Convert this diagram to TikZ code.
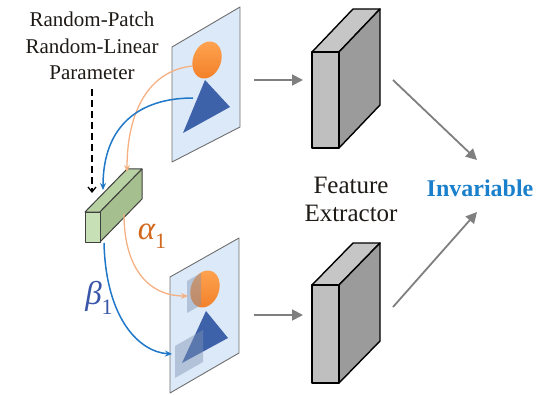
\documentclass[tikz,border=0pt]{standalone}
\usepackage{fontspec}
\setmainfont{Liberation Serif}
\usetikzlibrary{arrows.meta}

\definecolor{planefill}{HTML}{DCE9F8}
\definecolor{planeedge}{HTML}{6E6E6E}
\definecolor{shapeorange}{HTML}{F27F27}
\definecolor{shapeorangelt}{HTML}{FFA452}
\definecolor{triblue}{HTML}{3E62AA}
\definecolor{patchgray}{HTML}{7F93B4}
\definecolor{curveorange}{HTML}{F5B183}
\definecolor{curveblue}{HTML}{1F78C8}
\definecolor{alphacol}{HTML}{D2691E}
\definecolor{betacol}{HTML}{3A56A8}
\definecolor{invblue}{HTML}{1A80CC}
\definecolor{arrowgray}{HTML}{7F7F7F}
\definecolor{textdark}{HTML}{1E1A16}
\definecolor{blkfront}{HTML}{BFBFBF}
\definecolor{blktop}{HTML}{C6C6C6}
\definecolor{blkside}{HTML}{9B9B9B}
\definecolor{grnfront}{HTML}{C8E0B6}
\definecolor{grntop}{HTML}{B7D1A2}
\definecolor{grnside}{HTML}{A6BF8E}

% cuboid: front face from (#1,#2) to (#3,#4), depth offset (#5,#6),
% colour prefix #7, outline style #8
\newcommand{\drawcuboid}[8]{%
  \draw[#8, fill=#7top] (#1,#2) -- (#3,#2) -- ({#3+#5},{#2+#6}) -- ({#1+#5},{#2+#6}) -- cycle;
  \draw[#8, fill=#7side] (#3,#2) -- ({#3+#5},{#2+#6}) -- ({#3+#5},{#4+#6}) -- (#3,#4) -- cycle;
  \draw[#8, fill=#7front] (#1,#2) rectangle (#3,#4);
}
% italic Greek letter with an upright subscript
\newcommand{\grsub}[2]{{\itshape #1}\raisebox{-0.28em}{\fontsize{22}{22}\selectfont #2}}

\tikzset{
  plane/.style={fill=planefill, draw=planeedge, line width=0.9pt, line join=round},
  blockline/.style={draw=black, line width=1.4pt, line join=round},
  greenline/.style={draw=black!75, line width=1.0pt, line join=round},
  grayarrow/.style={draw=arrowgray, line width=1.8pt, -{Triangle[length=11pt,width=11pt]}},
  curveo/.style={draw=curveorange, line width=1.3pt, -{Stealth[length=7pt,width=6pt]}},
  curveb/.style={draw=curveblue, line width=1.5pt, -{Stealth[length=7pt,width=6pt]}},
  dasharrow/.style={draw=black, line width=1.3pt, dash pattern=on 7pt off 4pt, -{Straight Barb[length=5pt,width=8pt]}},
  lbl/.style={font=\fontsize{21}{26.5}\selectfont, align=center, text=textdark, inner sep=0pt},
  fe/.style={font=\fontsize{25}{28}\selectfont, align=center, text=textdark, inner sep=0pt},
  inv/.style={font=\fontsize{24}{28}\selectfont\bfseries, text=invblue, inner sep=0pt},
  greek/.style={font=\fontsize{33}{36}\selectfont, inner sep=0pt},
  orangeshape/.style={top color=shapeorangelt, bottom color=shapeorange},
  patch/.style={fill=patchgray, fill opacity=0.45},
}

\begin{document}
\begin{tikzpicture}[x=1pt, y=-1pt]
\useasboundingbox (0,0) rectangle (545,395);

% ---------- original image plane ----------
\draw[plane] (172,47) -- (240,7) -- (240,127) -- (172,162) -- cycle;
\fill[triblue] (205,80) -- (230,107) -- (183,133) -- cycle;
\shade[orangeshape, rotate around={-20:(207,60)}] (207,60) ellipse [x radius=14, y radius=19];

% ---------- augmented image plane ----------
\draw[plane] (170,277) -- (239,238) -- (239,353) -- (170,393) -- cycle;
\fill[triblue] (206,311) -- (228,338) -- (182,363) -- cycle;
\shade[orangeshape, rotate around={-20:(205,289)}] (205,289) ellipse [x radius=14, y radius=19];
\fill[patch] (187,281) -- (201,273) -- (201,305) -- (187,313) -- cycle;
\fill[patch] (175,346) -- (203,330) -- (203,362) -- (175,378) -- cycle;

% ---------- random parameter block ----------
\drawcuboid{85}{212}{100}{242}{42}{-43}{grn}{greenline}

% ---------- feature extractors ----------
\drawcuboid{312}{52}{339}{148}{41}{-43}{blk}{blockline}
\drawcuboid{312}{285}{339}{383}{41}{-42}{blk}{blockline}

% ---------- labels ----------
\node[lbl] (param) at (92,46) {Random-Patch\\Random-Linear\\Parameter};
\node[fe] (fext) at (351,199) {Feature\\Extractor};
\node[inv] (inv) at (480,188) {Invariable};
\node[greek, text=alphacol] (alpha) at (152,236) {\grsub{α}{1}};
\node[greek, text=betacol] (beta) at (99,298) {\grsub{β}{1}};

% ---------- anchor points ----------
\coordinate (ellA) at (193,66);
\coordinate (triA) at (193,98);
\coordinate (blkTopO) at (127,172);
\coordinate (blkTopB) at (103,190);
\coordinate (dashS) at (92,89);
\coordinate (dashE) at (92,193);
\coordinate (blkSide) at (124,214);
\coordinate (blkBot) at (104,243);
\coordinate (ellB) at (188,296);
\coordinate (edgeB) at (172,354);
\coordinate (planeAr) at (254,80);
\coordinate (planeBr) at (254,315);
\coordinate (fextA) at (303,80);
\coordinate (fextB) at (303,315);
\coordinate (fextAout) at (393,80);
\coordinate (fextBout) at (393,307);
\coordinate (invA) at (477,160);
\coordinate (invB) at (477,212);

% ---------- connectors ----------
\draw[curveo] (ellA) .. controls (150,70) and (127,110) .. (blkTopO);
\draw[curveb] (triA) .. controls (140,98) and (103,125) .. (blkTopB);
\draw[dasharrow] (dashS) -- (dashE);
\draw[curveo] (blkSide) .. controls (124,270) and (150,296) .. (ellB);
\draw[curveb] (blkBot) .. controls (106,320) and (140,352) .. (edgeB);

\draw[grayarrow] (planeAr) -- (fextA);
\draw[grayarrow] (planeBr) -- (fextB);
\draw[grayarrow] (fextAout) -- (invA);
\draw[grayarrow] (fextBout) -- (invB);
\end{tikzpicture}
\end{document}
